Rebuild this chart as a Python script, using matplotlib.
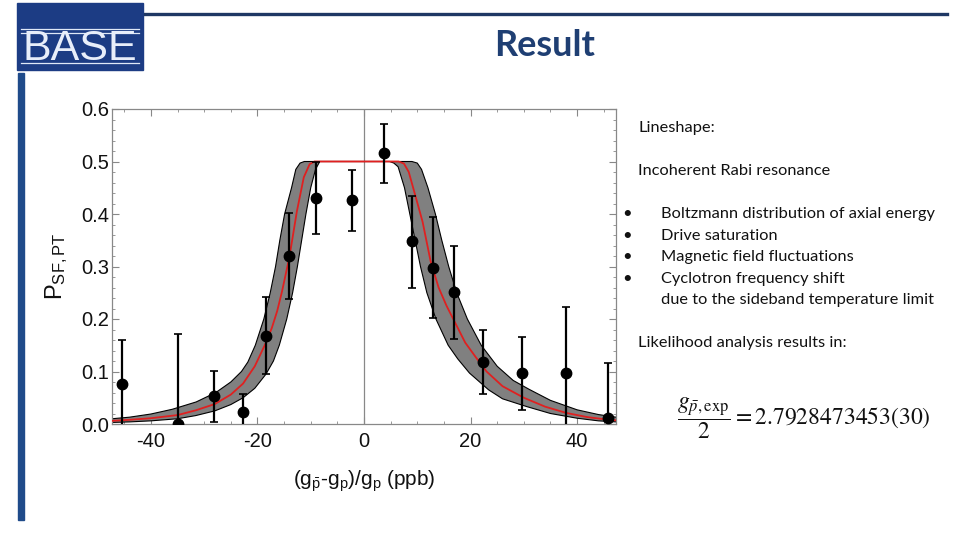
import matplotlib
matplotlib.use("Agg")
import matplotlib.pyplot as plt
from matplotlib.patches import Rectangle
from matplotlib.ticker import MultipleLocator

plt.rcParams["mathtext.fontset"] = "stix"

# measured spin-flip probabilities
x_pts = [-45.5, -34.9, -28.1, -22.7, -18.4, -14.0, -8.95, -2.26,
         3.8, 9.1, 12.9, 16.9, 22.4, 29.7, 37.9, 45.8]
y_pts = [0.077, 0.0, 0.054, 0.022, 0.168, 0.320, 0.431, 0.426,
         0.516, 0.348, 0.297, 0.251, 0.118, 0.098, 0.097, 0.011]
err_lo = [0.083, 0.172, 0.051, 0.035, 0.072, 0.081, 0.070, 0.059,
          0.057, 0.089, 0.096, 0.089, 0.061, 0.071, 0.125, 0.106]
err_hi = [0.083, 0.172, 0.047, 0.035, 0.073, 0.082, 0.069, 0.058,
          0.056, 0.087, 0.097, 0.088, 0.061, 0.068, 0.125, 0.106]

# fitted lineshape (red) and its confidence band
fit_x = [-47.3, -44, -40, -35, -31.6, -28, -25, -22.7, -20.5, -18.4, -17.3,
         -16.3, -15.4, -14.0, -12.6, -11.3, -10.2, -9.3,
         6.5, 7.5, 8.4, 9.5, 11.0, 12.5, 14.0, 15.5, 17.0, 19.0, 21.0, 23.0,
         26.0, 30.0, 34.0, 38.0, 42.0, 46.0, 47.3]
fit_y = [0.006, 0.008, 0.011, 0.017, 0.026, 0.038, 0.056, 0.077, 0.11, 0.155,
         0.183, 0.215, 0.252, 0.318, 0.405, 0.47, 0.495, 0.5,
         0.5, 0.496, 0.48, 0.44, 0.385, 0.31, 0.26, 0.225, 0.195, 0.155,
         0.127, 0.100, 0.072, 0.050, 0.033, 0.021, 0.013, 0.008, 0.007]

band_up_x = [-47.3, -44, -40, -36, -31.5, -27.8, -25.0, -23.0, -21.8, -20.4,
             -18.8, -17.6, -16.6, -15.8, -14.9, -13.6, -12.8, -12.0, -11.2,
             9.0, 10.0, 10.8, 12.0, 13.4, 14.6, 15.9, 17.4, 19.4, 22.0, 25.0,
             28.0, 31.0, 35.0, 40.0, 44.0, 47.3]
band_up_y = [0.010, 0.013, 0.019, 0.028, 0.042, 0.060, 0.080, 0.100, 0.118,
             0.150, 0.200, 0.250, 0.300, 0.350, 0.400, 0.450, 0.485, 0.497,
             0.5,
             0.5, 0.497, 0.485, 0.45, 0.40, 0.35, 0.30, 0.25, 0.20, 0.15,
             0.11, 0.083, 0.066, 0.045, 0.027, 0.018, 0.013]

band_lo_x = [-47.3, -44, -40, -35, -31.6, -28, -25, -22.7, -20.5, -18.4, -17.0,
             -15.9, -14.5, -13.4, -12.5, -11.7, -10.9, -10.0, -9.1, -8.3,
             4.8, 5.6, 6.4, 7.6, 8.6, 9.6, 10.6, 11.8, 13.5, 15.8, 17.6, 19.8,
             23.4, 26.0, 30.6, 35.0, 40.0, 44.0, 47.3]
band_lo_y = [0.003, 0.004, 0.006, 0.010, 0.016, 0.025, 0.037, 0.050, 0.068,
             0.095, 0.12, 0.15, 0.20, 0.25, 0.30, 0.35, 0.40, 0.45, 0.485, 0.5,
             0.5, 0.497, 0.49, 0.45, 0.40, 0.35, 0.30, 0.25, 0.20, 0.15,
             0.124, 0.097, 0.065, 0.048, 0.033, 0.02, 0.011, 0.006, 0.004]

x_ticks = [-40, -20, 0, 20, 40]
y_ticks = [0.0, 0.1, 0.2, 0.3, 0.4, 0.5, 0.6]

bullets = ["Boltzmann distribution of axial energy",
           "Drive saturation",
           "Magnetic field fluctuations",
           "Cyclotron frequency shift"]

navy = "#1f3f73"
fig = plt.figure(figsize=(9.6, 5.4), dpi=100)

# slide decoration in pixel coordinates
deco = fig.add_axes([0, 0, 1, 1])
deco.set_xlim(0, 960)
deco.set_ylim(540, 0)
deco.axis("off")
deco.add_patch(Rectangle((17, 3), 126, 67, color="#1c3c84"))
for yy in (29, 33, 63):
    deco.plot([21, 139], [yy, yy], color="#dfe8f7", lw=0.9)
deco.text(80, 49, "BASE", color="#e8eefa", fontsize=31, ha="center", va="center",
          family="Liberation Sans")
deco.plot([145, 947], [14, 14], color="#1f3864", lw=2.4)
deco.add_patch(Rectangle((18, 73), 6, 447, color="#1f4b8a"))
deco.text(545, 45, "Result", color=navy, fontsize=26, fontweight="bold",
          ha="center", va="center", family="Lato")

# right-hand text
tfont = dict(fontsize=11.8, family="Lato", color="#111111", va="center")
deco.text(638, 128, "Lineshape:", **tfont)
deco.text(638, 171, "Incoherent Rabi resonance", **tfont)
for i, b in enumerate(bullets):
    yy = 214 + i * 21.6
    deco.text(622, yy, "\u2022", **tfont)
    deco.text(661, yy, b, **tfont)
deco.text(661, 300, "due to the sideband temperature limit", **tfont)
deco.text(638, 343, "Likelihood analysis results in:", **tfont)
deco.text(677, 418, r"$\dfrac{g_{\bar{p},\mathrm{exp}}}{2} = 2.7928473453(30)$",
          fontsize=17, va="center", ha="left", color="#111111")

# chart
ax = fig.add_axes([112 / 960, 1 - 424 / 540, 504 / 960, 315 / 540])
ax.fill(band_up_x + band_lo_x[::-1], band_up_y + band_lo_y[::-1],
        facecolor="#808080", edgecolor="none", zorder=1)
ax.plot(band_up_x, band_up_y, color="black", lw=0.8, zorder=2)
ax.plot(band_lo_x, band_lo_y, color="black", lw=0.8, zorder=2)
ax.plot(fit_x, fit_y, color="#e02020", lw=1.3, zorder=3)
ax.axvline(0, color="#888888", lw=0.9, zorder=0)
ax.errorbar(x_pts, y_pts, yerr=[err_lo, err_hi], fmt="o", color="black",
            markersize=7.5, elinewidth=1.6, capsize=2.8, capthick=1.2, zorder=4)

ax.set_xlim(-47.3, 47.3)
ax.set_ylim(0, 0.6)
ax.set_xticks(x_ticks)
ax.set_xticklabels([str(v) for v in x_ticks])
ax.set_yticks(y_ticks)
ax.set_yticklabels([f"{v:.1f}" for v in y_ticks])
ax.xaxis.set_minor_locator(MultipleLocator(5))
ax.yaxis.set_minor_locator(MultipleLocator(0.02))
ax.tick_params(which="both", direction="in", top=True, right=True,
               color="#888888", labelsize=14.5, labelcolor="#111111")
ax.tick_params(which="major", length=5, width=0.8)
ax.tick_params(which="minor", length=2.5, width=0.6)
ax.tick_params(axis="y", pad=2)
ax.tick_params(axis="x", pad=6)
for lab in ax.get_xticklabels() + ax.get_yticklabels():
    lab.set_family("Liberation Sans")
for s in ax.spines.values():
    s.set_color("#888888")
    s.set_linewidth(0.9)

ax.set_ylabel(r"$\mathregular{P_{SF,PT}}$", fontsize=17, family="Liberation Sans",
              labelpad=8, color="#111111")
ax.set_xlabel(r"$\mathregular{(g_{\bar{p}}\text{-}g_p)/g_p\ (ppb)}$", fontsize=15,
              family="Liberation Sans", labelpad=12, color="#111111")

fig.savefig("out.png", dpi=100)
